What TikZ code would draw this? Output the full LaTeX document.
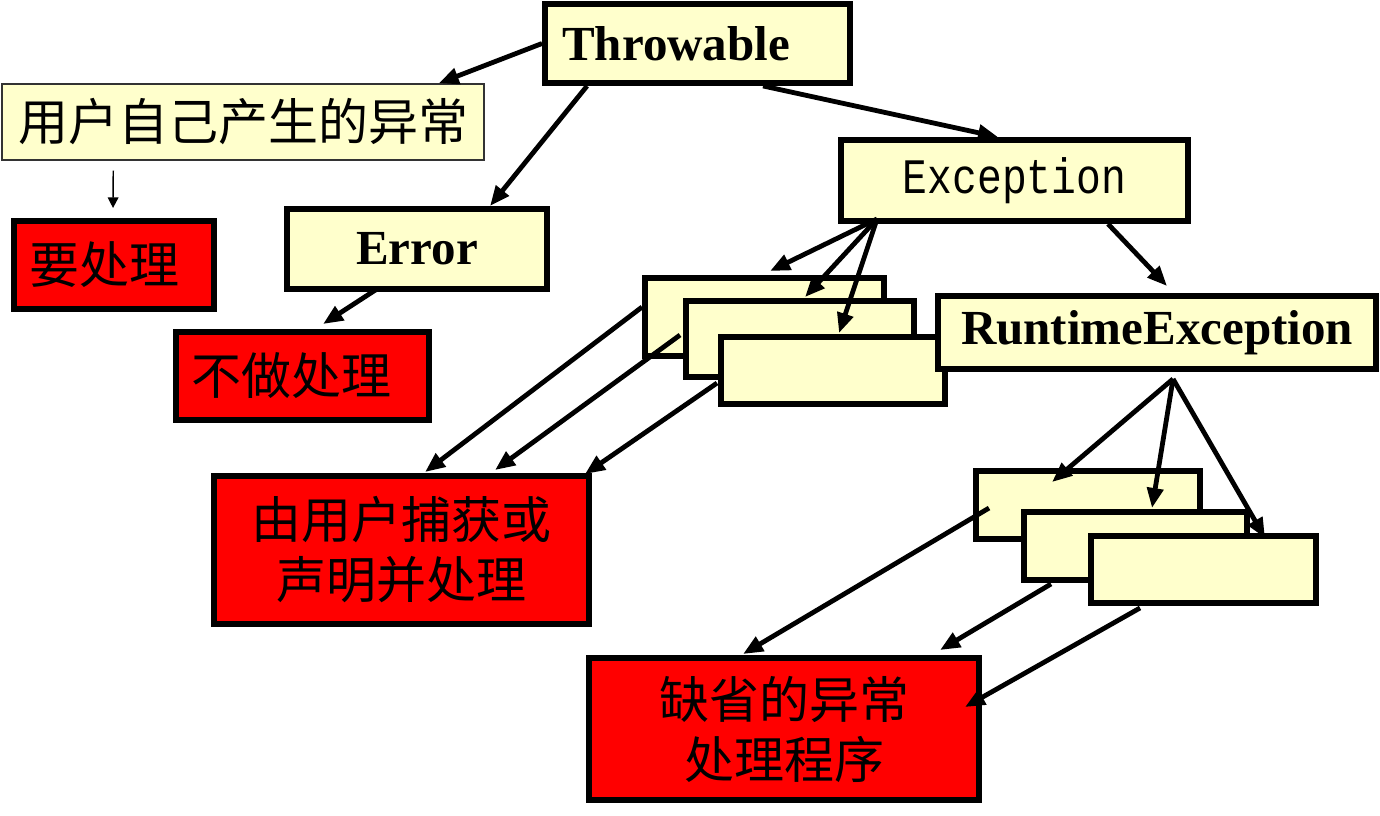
\documentclass[tikz,border=0pt]{standalone}
\usepackage{fontspec}
\setmainfont{Liberation Serif}
\newfontfamily\cjk{Noto Sans CJK SC}
\newfontfamily\monofnt{Liberation Mono}
\usetikzlibrary{arrows.meta,calc}
\definecolor{paleyellow}{HTML}{FFFFCC}
\tikzstyle{ybox}=[draw, fill=paleyellow, line width=4.2pt, inner sep=2pt]
\tikzstyle{rbox}=[draw, fill=red, line width=4.2pt, inner sep=2pt, align=center, font=\cjk\fontsize{37.5pt}{45pt}\selectfont]
\tikzstyle{bname}=[font=\fontsize{36.75pt}{44pt}\selectfont\bfseries]
\tikzstyle{arr}=[-{Triangle[length=15pt,width=12pt]}, line width=3.6pt]
\tikzstyle{thinarr}=[-{Triangle[length=8pt,width=8pt]}, line width=1.1pt]

\begin{document}
\begin{tikzpicture}[x=0.75pt,y=-0.75pt]
\useasboundingbox (0,0) rectangle (1380,816);

\node[ybox, bname, minimum width=229pt, minimum height=59.5pt] at (697.5, 43.5) (throwable) {Throwable\hspace*{32pt}};
\node[draw=black!80, fill=paleyellow, line width=1.1pt, inner sep=2pt, font=\cjk\fontsize{37.5pt}{45pt}\selectfont, minimum width=361.5pt, minimum height=57pt] at (243, 122) (own) {用户自己产生的异常};
\node[rbox, minimum width=150.25pt, minimum height=66.25pt] at (114, 265) (must) {要处理\hspace*{15pt}};
\node[ybox, bname, minimum width=195.25pt, minimum height=60.25pt] at (417, 249) (error) {Error};
\node[rbox, minimum width=190pt, minimum height=66.25pt] at (302.5, 376) (ignore) {不做处理\hspace*{16pt}};
\node[ybox, minimum width=260.5pt, minimum height=61pt] at (1014.5, 180.5) (exception) {\monofnt\fontsize{31pt}{36pt}\selectfont\scalebox{1}[1.2]{Exception}};

\node[ybox, minimum width=179.5pt, minimum height=58.75pt] at (764.5, 317) (chk1) {};
\node[ybox, minimum width=171.25pt, minimum height=57.25pt] at (800, 339) (chk2) {};
\node[ybox, minimum width=168.25pt, minimum height=50.5pt] at (833, 370.5) (chk3) {};
\node[ybox, bname, minimum width=328.75pt, minimum height=55pt] at (1157, 332.5) (runtime) {RuntimeException};
\node[rbox, minimum width=281.5pt, minimum height=111.25pt] at (401.5, 550) (handle) {由用户捕获或\\声明并处理};

\node[ybox, minimum width=168.25pt, minimum height=51.25pt] at (1088, 505) (rt1) {};
\node[ybox, minimum width=167.5pt, minimum height=51.25pt] at (1135.5, 546) (rt2) {};
\node[ybox, minimum width=169pt, minimum height=50.5pt] at (1203.5, 569.5) (rt3) {};
\node[rbox, minimum width=292.75pt, minimum height=106.75pt] at (784, 729) (dflt) {缺省的异常\\处理程序};

\coordinate (excfan) at ($(exception.south west)+(39,-5)$);
\coordinate (rtfan) at ($(runtime.south west)+(238,7)$);

% from Throwable
\draw[arr] (throwable.west) -- ($(own.north east)+(-46,0)$);
\draw[arr] ($(throwable.south west)+(45,0)$) -- ($(error.north west)+(206,0)$);
\draw[arr] ($(throwable.south west)+(221,0)$) -- ($(exception.north west)+(160,0)$);
\draw[thinarr] ($(own.south west)+(112,10)$) -- ($(must.north west)+(102,-10)$);
\draw[arr] ($(error.south west)+(93,-3)$) -- ($(ignore.north west)+(150,-5)$);

% checked exceptions
\draw[arr] (excfan) -- ($(chk1.north west)+(128,-4)$);
\draw[arr] (excfan) -- ($(chk2.north west)+(122,-1)$);
\draw[arr] (excfan) -- ($(chk3.north west)+(121,-1)$);
\draw[arr] ($(exception.south west)+(270,0)$) -- ($(runtime.north west)+(232,-7)$);
\draw[arr] ($(chk1.north west)+(0,32)$) -- ($(handle.north west)+(214,-1)$);
\draw[arr] ($(chk2.north west)+(-3,37)$) -- ($(handle.north west)+(284,-3)$);
\draw[arr] ($(chk3.north west)+(-1,49)$) -- ($(handle.north east)+(-7,1)$);

% runtime exceptions
\draw[arr] (rtfan) -- ($(rt1.north west)+(79,14)$);
\draw[arr] (rtfan) -- ($(rt2.north west)+(131,-1)$);
\draw[arr] (rtfan) -- ($(rt3.north west)+(177,5)$);
\draw[arr] ($(rt1.north west)+(16,40)$) -- ($(dflt.north west)+(157,-1)$);
\draw[arr] ($(rt2.south west)+(30,1)$) -- ($(dflt.north west)+(354,-5)$);
\draw[arr] ($(rt3.south west)+(52,2)$) -- ($(dflt.north east)+(-17,52)$);
\end{tikzpicture}
\end{document}
